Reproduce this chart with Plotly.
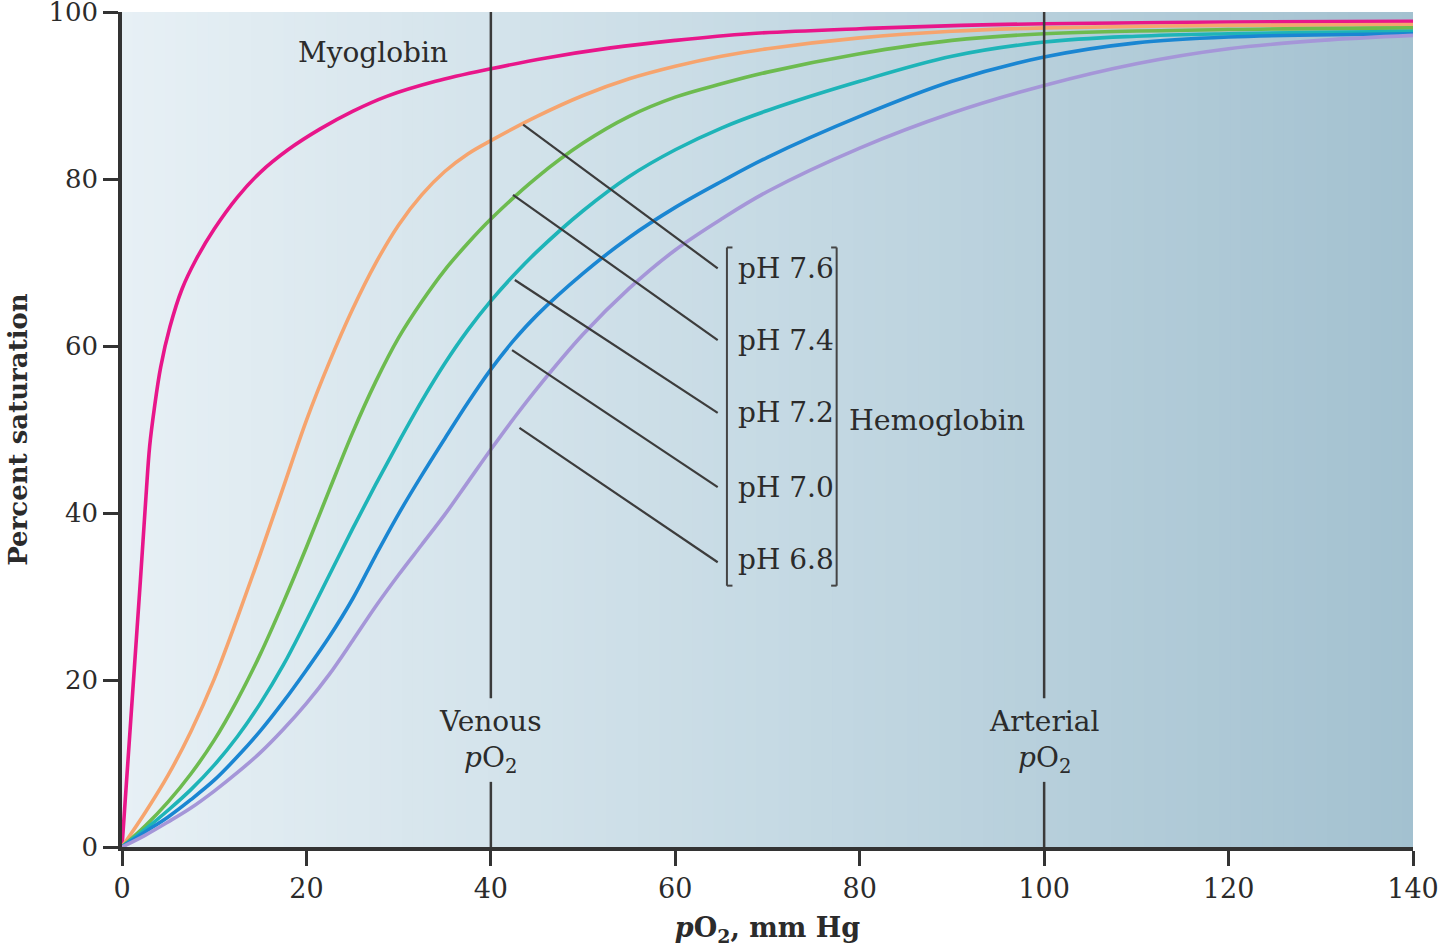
import plotly.graph_objects as go

# ---------------- data ----------------
myo_x = [0, 1, 2, 2.6, 3, 3.5, 4.2, 5.2, 6.5, 8, 10, 12.5, 15, 18, 21.5, 25, 28.7, 34, 40, 46, 53, 60, 68, 80, 91, 100, 120, 140]
myo_y = [0, 16, 32, 42, 48, 52.5, 57.5, 62.3, 66.8, 70.3, 74.0, 77.8, 80.8, 83.5, 86.0, 88.1, 89.9, 91.7, 93.2, 94.5, 95.7, 96.6, 97.4, 98.0, 98.4, 98.6, 98.8, 98.9]

ph76_x = [0, 2.5, 5, 7.5, 10, 12.5, 15, 17.5, 20, 22.5, 25, 27.5, 30, 32.5, 35, 37.5, 40, 45, 50, 55, 60, 65, 70, 80, 90, 100, 120, 140]
ph76_y = [0, 4.1, 8.6, 13.9, 20.1, 27.4, 35.1, 43.1, 51.1, 58.1, 64.4, 69.9, 74.5, 78.1, 80.9, 83.0, 84.6, 87.5, 90.0, 92.0, 93.5, 94.7, 95.6, 96.9, 97.7, 98.1, 98.4, 98.5]

ph74_x = [0, 2.5, 5, 7.5, 10, 12.5, 15, 17.5, 20, 22.5, 25, 27.5, 30, 32.5, 35, 37.5, 40, 45, 50, 55, 60, 65, 70, 80, 90, 100, 120, 140]
ph74_y = [0, 2.5, 5.4, 8.8, 12.8, 17.6, 23.1, 29.3, 35.9, 42.8, 49.6, 55.7, 61.0, 65.3, 69.1, 72.3, 75.2, 80.2, 84.3, 87.5, 89.8, 91.4, 92.8, 95.0, 96.6, 97.4, 97.9, 98.1]

ph72_x = [0, 2.5, 5, 7.5, 10, 12.5, 15, 17.5, 20, 22.5, 25, 27.5, 30, 32.5, 35, 37.5, 40, 42.5, 45, 50, 55, 60, 65, 70, 80, 90, 100, 110, 120, 140]
ph72_y = [0, 2.1, 4.4, 6.9, 9.8, 13.2, 17.2, 21.8, 27.1, 32.6, 38.1, 43.4, 48.5, 53.4, 57.9, 61.9, 65.4, 68.5, 71.3, 76.2, 80.3, 83.5, 86.1, 88.2, 91.7, 94.7, 96.4, 97.1, 97.4, 97.7]

ph70_x = [0, 2.5, 5, 7.5, 10, 12.5, 15, 17.5, 20, 22.5, 25, 27.5, 30, 32.5, 35, 37.5, 40, 42.5, 45, 50, 55, 60, 65, 70, 80, 90, 100, 110, 120, 140]
ph70_y = [0, 1.8, 3.6, 5.7, 8.0, 10.8, 13.9, 17.4, 21.2, 25.2, 29.7, 34.9, 39.9, 44.5, 48.9, 53.2, 57.2, 60.7, 63.7, 68.7, 73.0, 76.6, 79.7, 82.6, 87.5, 91.7, 94.6, 96.3, 97.0, 97.4]

ph68_x = [0, 2.5, 5, 7.5, 10, 12.5, 15, 17.5, 20, 22.5, 25, 27.5, 30, 32.5, 35, 37.5, 40, 42.5, 45, 50, 55, 60, 65, 70, 80, 90, 100, 110, 120, 130, 140]
ph68_y = [0, 1.4, 3.0, 4.7, 6.7, 8.9, 11.3, 14.1, 17.2, 20.7, 24.7, 28.8, 32.6, 36.2, 39.8, 43.7, 47.6, 51.35, 54.9, 61.4, 66.9, 71.5, 75.2, 78.5, 83.7, 87.9, 91.2, 93.8, 95.6, 96.6, 97.2]

series_names = ["Myoglobin", "pH 7.6", "pH 7.4", "pH 7.2", "pH 7.0", "pH 6.8"]
series_x = [myo_x, ph76_x, ph74_x, ph72_x, ph70_x, ph68_x]
series_y = [myo_y, ph76_y, ph74_y, ph72_y, ph70_y, ph68_y]
series_colors = ["#e8168a", "#f6a46e", "#6dbb4f", "#1eb4b8", "#1a86d2", "#a596d8"]

x_ticks = [0, 20, 40, 60, 80, 100, 120, 140]
y_ticks = [0, 20, 40, 60, 80, 100]

ref_lines_x = [40, 100]
ref_labels = ["Venous<br><i>p</i>O<sub>2</sub>", "Arterial<br><i>p</i>O<sub>2</sub>"]

# leader lines from curves to pH labels
leader_start = [(43.5, 86.5), (42.4, 78.1), (42.6, 67.9), (42.3, 59.5), (43.1, 50.2)]
leader_end = [(64.6, 69.3), (64.6, 60.7), (64.6, 52.0), (64.6, 43.1), (64.6, 34.1)]
ph_labels = ["pH 7.6", "pH 7.4", "pH 7.2", "pH 7.0", "pH 6.8"]
ph_label_y = [69.3, 60.7, 52.0, 43.1, 34.4]

FONT = "DejaVu Serif"
TXT = "#2b2b2b"
AX = "#333333"

fig = go.Figure()

# background gradient (light left -> darker blue-grey right)
c0 = (231, 240, 245)
c1 = (198, 218, 228)
c2 = (163, 193, 208)
N = 120
for i in range(N):
    t = (i + 0.5) / N
    if t < 0.5:
        u = t / 0.5
        c = tuple(round(c0[k] + (c1[k] - c0[k]) * u) for k in range(3))
    else:
        u = (t - 0.5) / 0.5
        c = tuple(round(c1[k] + (c2[k] - c1[k]) * u) for k in range(3))
    fig.add_shape(type="rect", xref="x domain", yref="y domain",
                  x0=i / N, x1=min(1, (i + 1) / N + 0.002), y0=0, y1=1,
                  fillcolor=f"rgb{c}", line_width=0, layer="below")

# vertical reference lines, broken around their labels
for xv in ref_lines_x:
    fig.add_shape(type="line", x0=xv, x1=xv, y0=17.8, y1=100,
                  line=dict(color="#3a3a3a", width=2.5))
    fig.add_shape(type="line", x0=xv, x1=xv, y0=0, y1=7.8,
                  line=dict(color="#3a3a3a", width=2.5))

for xv, lab in zip(ref_lines_x, ref_labels):
    fig.add_annotation(x=xv, y=12.6, text=lab, showarrow=False,
                       font=dict(family=FONT, size=28, color=TXT),
                       xanchor="center", yanchor="middle", align="center")

# curves
for nm, xs, ys, col in zip(series_names, series_x, series_y, series_colors):
    fig.add_trace(go.Scatter(x=xs, y=ys, mode="lines", name=nm,
                             line=dict(color=col, width=3.6, shape="spline", smoothing=1.0),
                             showlegend=False, hoverinfo="x+y+name"))

# leader lines
for (xa, ya), (xb, yb) in zip(leader_start, leader_end):
    fig.add_shape(type="line", x0=xa, y0=ya, x1=xb, y1=yb,
                  line=dict(color="#3c3c3c", width=2.2))

# pH labels
for lab, yv in zip(ph_labels, ph_label_y):
    fig.add_annotation(x=66.6, y=yv, text=lab, showarrow=False,
                       xanchor="left", yanchor="middle",
                       font=dict(family=FONT, size=28, color=TXT))

# brackets
br_top, br_bot = 71.8, 31.3
for xb, dx in [(65.6, 0.6), (77.5, -0.6)]:
    fig.add_shape(type="line", x0=xb, x1=xb, y0=br_bot, y1=br_top,
                  line=dict(color="#444444", width=2))
    fig.add_shape(type="line", x0=xb, x1=xb + dx, y0=br_top, y1=br_top,
                  line=dict(color="#444444", width=2))
    fig.add_shape(type="line", x0=xb, x1=xb + dx, y0=br_bot, y1=br_bot,
                  line=dict(color="#444444", width=2))

fig.add_annotation(x=78.6, y=51.1, text="Hemoglobin", showarrow=False,
                   xanchor="left", yanchor="middle",
                   font=dict(family=FONT, size=28.5, color=TXT))
fig.add_annotation(x=27.2, y=95.2, text="Myoglobin", showarrow=False,
                   xanchor="center", yanchor="middle",
                   font=dict(family=FONT, size=28, color=TXT))

fig.update_layout(
    width=1440, height=947,
    margin=dict(l=122, r=27, t=12, b=100, autoexpand=False),
    paper_bgcolor="white", plot_bgcolor="white",
    font=dict(family=FONT, color=TXT),
    xaxis=dict(range=[0, 140], tickvals=x_ticks, ticks="outside", ticklen=15,
               tickwidth=2.5, tickcolor=AX, showline=True, linewidth=3.5,
               linecolor=AX, showgrid=False, zeroline=False, automargin=False,
               ticklabeloverflow="allow",
               tickfont=dict(family=FONT, size=27, color=TXT),
               title=dict(text="<b><i>p</i>O<sub>2</sub>, mm Hg</b>", standoff=16,
                          font=dict(family=FONT, size=27, color=TXT))),
    yaxis=dict(range=[0, 100], tickvals=y_ticks, ticks="outside", ticklen=15,
               tickwidth=2.5, tickcolor=AX, showline=True, linewidth=3.5,
               linecolor=AX, showgrid=False, zeroline=False, automargin=False,
               ticklabeloverflow="allow",
               tickfont=dict(family=FONT, size=26, color=TXT),
               title=dict(text="<b>Percent saturation</b>", standoff=14,
                          font=dict(family=FONT, size=26, color=TXT))),
)

fig.write_html("out.html")
